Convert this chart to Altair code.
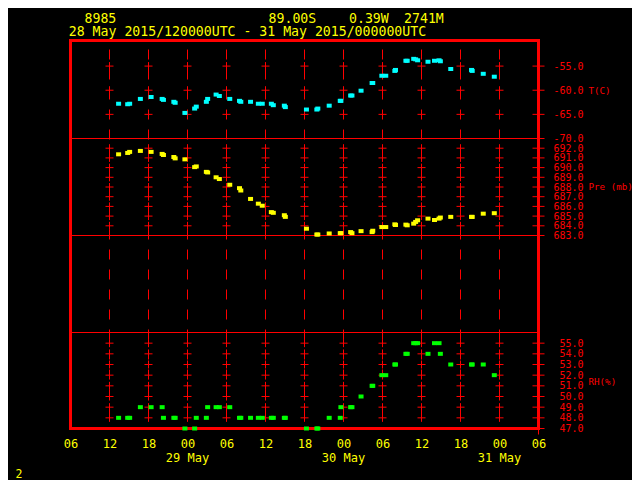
import altair as alt
import pandas as pd

# ---- data (hours since 28 May 2015 00 UTC) ----
hours = [13.4, 14.8, 15.1, 16.75, 18.4, 20.1, 20.3, 21.9, 22.1, 23.6,
         25.1, 25.35, 26.9, 27.1, 28.4, 28.9, 30.5, 32.0, 32.2, 33.7,
         34.9, 35.5, 36.9, 37.2, 38.9, 39.05, 42.3, 43.9, 44.05, 45.8,
         47.5, 47.6, 49.1, 49.3, 50.7, 52.4, 52.5, 53.9, 54.5, 55.9,
         56.0, 57.6, 57.8, 58.8, 59.1, 59.4, 61.0, 62.0, 62.7, 62.9,
         64.5, 67.7, 67.8, 69.5, 71.2]

temp_c = [-62.8, -62.9, -62.8, -61.8, -61.4, -61.8, -62.0, -62.4, -62.6, -64.7,
          -63.8, -63.4, -62.4, -61.8, -60.9, -61.2, -61.8, -62.2, -62.4, -62.4,
          -62.8, -62.8, -62.8, -63.1, -63.2, -63.5, -64.0, -64.0, -63.8, -63.2,
          -62.2, -62.2, -61.1, -61.1, -60.1, -58.5, -58.5, -57.0, -57.0, -56.0,
          -55.8, -53.9, -53.9, -53.5, -53.6, -53.8, -54.1, -53.9, -53.8, -54.0,
          -55.6, -55.8, -56.0, -56.6, -57.2]

pres_mb = [691.37, 691.51, 691.62, 691.72, 691.62, 691.41, 691.30, 691.09, 690.95, 690.85,
           690.05, 690.12, 689.56, 689.50, 689.00, 688.82, 688.23, 687.88, 687.64, 686.77,
           686.28, 686.07, 685.41, 685.34, 685.09, 684.92, 683.70, 683.10, 683.10, 683.21,
           683.24, 683.24, 683.35, 683.24, 683.45, 683.35, 683.49, 683.87, 683.87, 684.15,
           684.08, 684.12, 684.05, 684.22, 684.40, 684.57, 684.74, 684.60, 684.74, 684.85,
           684.92, 684.92, 684.92, 685.25, 685.30]

rh_pct = [48, 48, 48, 49, 49, 49, 48, 48, 48, 47,
          47, 48, 48, 49, 49, 49, 49, 48, 48, 48,
          48, 48, 48, 48, 48, 48, 47, 47, 47, 48,
          48, 49, 49, 49, 50, 51, 51, 52, 52, 53,
          53, 54, 54, 55, 55, 55, 54, 55, 55, 54,
          53, 53, 53, 53, 52]

hour_ticks = [6, 12, 18, 24, 30, 36, 42, 48, 54, 60, 66, 72, 78]
grid_hours = [12, 18, 24, 30, 36, 42, 48, 54, 60, 66, 72]
edge_hour = [78]
date_hours = [24, 48, 72]
date_labels = ["29 May", "30 May", "31 May"]

t_ticks = [-70, -65, -60, -55]
p_ticks = [683, 684, 685, 686, 687, 688, 689, 690, 691, 692]
rh_ticks = [47, 48, 49, 50, 51, 52, 53, 54, 55]

RED = "#ff0000"
YEL = "#ffff00"
CYAN = "#00ffff"
GRN = "#00ff00"
MONO = "DejaVu Sans Mono"

W, H = 468, 388

xsc = alt.Scale(domain=[6, 78], nice=False, zero=False)
t_sc = alt.Scale(domain=[-70, -49.7], range=[98, 0], nice=False, zero=False)
p_sc = alt.Scale(domain=[683, 693], range=[195, 98], nice=False, zero=False)
r_sc = alt.Scale(domain=[47, 56], range=[H, 292], nice=False, zero=False)

df = pd.DataFrame({"hr": hours, "T": temp_c, "P": pres_mb, "RH": rh_pct})

SQ = "M-1.25,-1L1.25,-1L1.25,1L-1.25,1Z"
CROSS = "M-1,0L1,0M0,-1L0,1"

xaxis = alt.Axis(values=hour_ticks,
                 labelExpr="(datum.value % 24 < 10 ? '0' : '') + toString(datum.value % 24)",
                 title=None, grid=False, domain=False, ticks=False, tickSize=0,
                 labelColor=YEL, labelFont=MONO, labelFontSize=12,
                 labelBaseline="alphabetic", labelPadding=18.5,
                 labelFlush=False, labelOverlap=False, labelBound=False)


def X(field):
    return alt.X(field, scale=xsc, axis=xaxis)


def yaxis(vals, expr, title, ty):
    return alt.Axis(orient="right", values=vals, labelExpr=expr, title=title,
                    titleAngle=0, titleAlign="left", titleBaseline="middle",
                    titleX=49.5, titleY=ty, titleColor=RED, titleFont=MONO,
                    titleFontSize=9.2, titleFontWeight="normal",
                    labelColor=RED, labelFont=MONO, labelFontSize=10,
                    labelAlign="right", labelBaseline="middle", labelPadding=44.5,
                    ticks=False, tickSize=0, domain=False, grid=False,
                    labelFlush=False, labelOverlap=False, labelBound=False)


neg1 = "(datum.value < 0 ? '-' : '') + format(abs(datum.value), '.1f')"
fmt1 = "format(datum.value, '.1f')"

layers = []

# dashed vertical grid lines through all panels
grid_df = pd.DataFrame({"g": grid_hours})
layers.append(alt.Chart(grid_df).mark_rule(color=RED, strokeWidth=1, strokeDash=[10, 10],
                                           strokeDashOffset=11).encode(
    x=X("g:Q"), y=alt.value(0), y2=alt.value(H)))

# panel separators
for val, sc in [(-70, t_sc), (683, p_sc), (56, r_sc)]:
    layers.append(alt.Chart(pd.DataFrame({"v": [val]})).mark_rule(color=RED, strokeWidth=1).encode(
        y=alt.Y("v:Q", scale=sc, axis=None), x=alt.value(0), x2=alt.value(W)))

# crosses at grid intersections and right-edge ticks
for ticks_inner, ticks_edge, sc in [([-65, -60, -55], t_ticks, t_sc),
                                     (p_ticks[1:], p_ticks, p_sc),
                                     (rh_ticks[1:], rh_ticks, r_sc)]:
    inner = pd.DataFrame([(h, v) for h in grid_hours for v in ticks_inner], columns=["h", "v"])
    edge = pd.DataFrame([(h, v) for h in edge_hour for v in ticks_edge], columns=["h", "v"])
    layers.append(alt.Chart(inner).mark_point(shape=CROSS, filled=False, size=64, color=RED,
                                              strokeWidth=1, opacity=1).encode(
        x=X("h:Q"), y=alt.Y("v:Q", scale=sc, axis=None)))
    layers.append(alt.Chart(edge).mark_point(shape=CROSS, filled=False, size=144, color=RED,
                                             strokeWidth=1, opacity=1).encode(
        x=X("h:Q"), y=alt.Y("v:Q", scale=sc, axis=None)))

# data series
layers.append(alt.Chart(df).mark_point(shape=SQ, filled=True, size=16, color=CYAN,
                                       strokeWidth=0, opacity=1).encode(
    x=X("hr:Q"),
    y=alt.Y("T:Q", scale=t_sc, axis=yaxis(t_ticks, neg1, "T(C)", 49.8))))
layers.append(alt.Chart(df).mark_point(shape=SQ, filled=True, size=16, color=YEL,
                                       strokeWidth=0, opacity=1).encode(
    x=X("hr:Q"),
    y=alt.Y("P:Q", scale=p_sc, axis=yaxis(p_ticks, fmt1, "Pre (mb)", 146.2))))
layers.append(alt.Chart(df).mark_point(shape=SQ, filled=True, size=16, color=GRN,
                                       strokeWidth=0, opacity=1).encode(
    x=X("hr:Q"),
    y=alt.Y("RH:Q", scale=r_sc, axis=yaxis(rh_ticks, fmt1, "RH(%)", 340.5))))

# date labels under the 00 UTC ticks
dates_df = pd.DataFrame({"h": date_hours, "lab": date_labels})
layers.append(alt.Chart(dates_df).mark_text(color=YEL, font=MONO, fontSize=12,
                                            align="center", baseline="alphabetic").encode(
    x=X("h:Q"), y=alt.value(H + 33), text="lab:N"))

# header and footer texts
one = alt.Data(values=[{"a": 1}])


def txt(s, x, y, size=13.2):
    return alt.Chart(one).mark_text(color=YEL, font=MONO, fontSize=size, align="left",
                                    baseline="alphabetic").encode(
        x=alt.value(x), y=alt.value(y), text=alt.value(s))


layers.append(txt("8985", 14.0, -17.8))
layers.append(txt("89.00S", 198.1, -17.8))
layers.append(txt("0.39W", 278.5, -17.8))
layers.append(txt("2741M", 333.6, -17.8))
layers.append(txt("28 May 2015/120000UTC - 31 May 2015/000000UTC", -1.7, -4.3))
layers.append(txt("2", -55, 437.5, 11.5))

chart = alt.layer(*layers).resolve_scale(y="independent").properties(
    width=W, height=H,
    autosize=alt.AutoSizeParams(type="none"),
    padding={"left": 62.5, "top": 32.5, "right": 93.5, "bottom": 51},
    background="black",
).configure_view(stroke=RED, strokeWidth=3, fill="black")

chart.save("out.html", embed_options={"renderer": "svg", "actions": False})
